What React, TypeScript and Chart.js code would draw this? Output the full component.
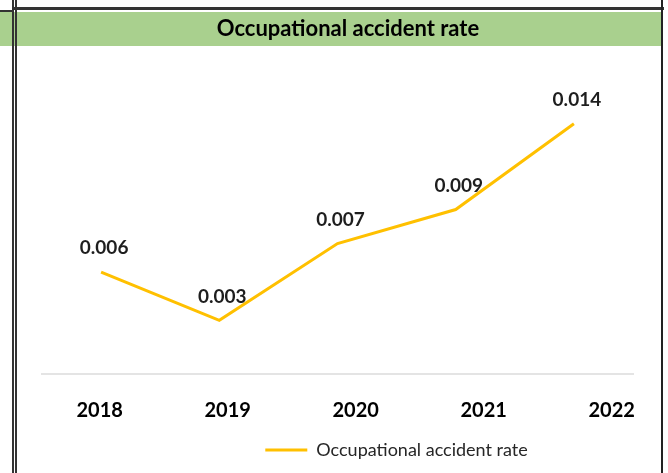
import React, { useEffect, useRef } from "react";
import { Chart, registerables } from "chart.js";

Chart.register(...registerables);

const years = ["2018", "2019", "2020", "2021", "2022"];
const accidentRates = [0.0057, 0.003, 0.0073, 0.0092, 0.014];
const seriesName = "Occupational accident rate";
const chartTitle = "Occupational accident rate";

const FONT = "Lato";

const dataLabelPlugin = {
  id: "pointValueLabels",
  afterDatasetsDraw(chart: any) {
    const ctx = chart.ctx;
    const meta = chart.getDatasetMeta(0);
    ctx.save();
    ctx.font = `bold 19px ${FONT}`;
    ctx.fillStyle = "#1e1e1e";
    ctx.textAlign = "center";
    ctx.textBaseline = "middle";
    meta.data.forEach((pt: any, i: number) => {
      ctx.fillText(accidentRates[i].toFixed(3), pt.x + 3, pt.y - 24);
    });
    ctx.restore();
  },
};

const legendShiftPlugin = {
  id: "legendShift",
  afterLayout(chart: any) {
    const lg = chart.legend;
    if (lg) {
      lg.left += 59;
      lg.right += 59;
    }
  },
};

export default function App() {
  const canvasRef = useRef<HTMLCanvasElement | null>(null);

  useEffect(() => {
    const canvas = canvasRef.current;
    if (!canvas) return;
    const chart = new Chart(canvas, {
      type: "line",
      data: {
        labels: years,
        datasets: [
          {
            label: seriesName,
            data: accidentRates,
            borderColor: "#ffc000",
            backgroundColor: "#ffc000",
            borderWidth: 3,
            pointRadius: 0,
            tension: 0,
            fill: false,
          },
        ],
      },
      options: {
        responsive: false,
        animation: false,
        layout: { padding: { left: 42, right: 35, top: 88, bottom: 4 } },
        scales: {
          x: {
            type: "category",
            offset: true,
            grid: { display: false, drawTicks: false },
            ticks: { display: false },
            border: { display: true, color: "#e4e4e4", width: 2 },
          },
          x2: {
            type: "linear",
            position: "bottom",
            min: -0.4508,
            max: 4.1664,
            grid: { display: false, drawTicks: false },
            border: { display: false },
            afterFit: (scale: any) => {
              scale.height = 47;
            },
            ticks: {
              stepSize: 1,
              includeBounds: false,
              autoSkip: false,
              maxRotation: 0,
              padding: 25,
              color: "#000000",
              font: { family: FONT, size: 20, weight: "bold" },
              callback: (v: any) => years[v as number] ?? "",
            },
          },
          y: { display: false, min: 0, max: 0.016 },
        },
        plugins: {
          legend: {
            position: "bottom",
            labels: {
              usePointStyle: true,
              pointStyle: "line",
              pointStyleWidth: 42,
              padding: 20,
              color: "#262626",
              font: { family: FONT, size: 18 },
            },
          },
          tooltip: { enabled: false },
          title: { display: false },
        },
      },
      plugins: [dataLabelPlugin, legendShiftPlugin],
    } as any);
    return () => chart.destroy();
  }, []);

  const line = (s: React.CSSProperties): React.CSSProperties => ({
    position: "absolute",
    background: "#333333",
    ...s,
  });

  return (
    <div
      style={{
        position: "absolute",
        left: 0,
        top: 0,
        width: 668,
        height: 473,
        overflow: "hidden",
        background: "#ffffff",
      }}
    >
      <canvas
        ref={canvasRef}
        width={668}
        height={473}
        style={{ position: "absolute", left: 0, top: 0, width: 668, height: 473 }}
      />
      <div
        style={{
          position: "absolute",
          left: 0,
          top: 12,
          width: 661,
          height: 34,
          background: "#a9d08e",
        }}
      />
      <div
        style={{
          position: "absolute",
          left: 48,
          top: 10,
          width: 600,
          height: 34,
          display: "flex",
          alignItems: "center",
          justifyContent: "center",
          fontFamily: FONT,
          fontWeight: 700,
          fontSize: 22,
          color: "#000000",
          whiteSpace: "nowrap",
        }}
      >
        {chartTitle}
      </div>
      <div style={line({ left: 0, top: 10, width: 12, height: 2 })} />
      <div style={line({ left: 12, top: 7, width: 652, height: 3 })} />
      <div style={line({ left: 12, top: 0, width: 2, height: 473 })} />
      <div style={line({ left: 15, top: 0, width: 2, height: 473 })} />
      <div style={line({ left: 661, top: 0, width: 2, height: 473, background: "#222222" })} />
    </div>
  );
}
